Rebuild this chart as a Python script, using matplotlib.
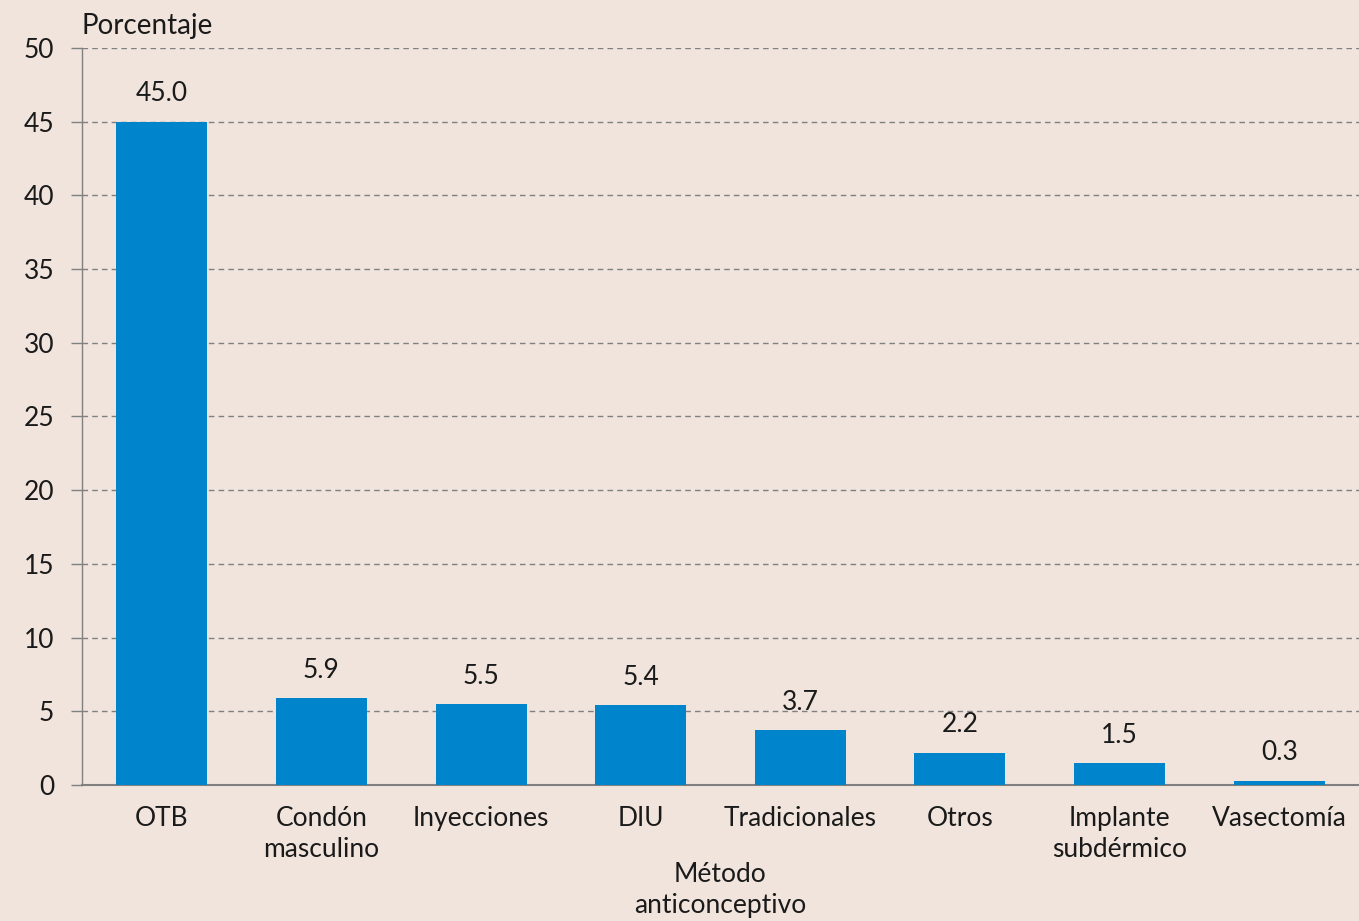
import matplotlib
matplotlib.use("Agg")
import matplotlib.pyplot as plt

categories = ["OTB", "Condón\nmasculino", "Inyecciones", "DIU", "Tradicionales",
              "Otros", "Implante\nsubdérmico", "Vasectomía"]
values = [45.0, 5.9, 5.5, 5.4, 3.7, 2.2, 1.5, 0.3]
yticks = [0, 5, 10, 15, 20, 25, 30, 35, 40, 45, 50]

BG = "#F0E4DD"
BAR = "#0085CC"
TXT = "#1a1a1a"
FS = 19
plt.rcParams['font.family'] = ['Lato', 'DejaVu Sans']

fig = plt.figure(figsize=(13.59, 9.21), dpi=100, facecolor=BG)
ax = fig.add_axes([82/1359, 136/921, 1 - 82/1359, (785-48)/921])
ax.set_facecolor(BG)

x = list(range(len(categories)))
bars = ax.bar(x, values, width=0.57, color=BAR, zorder=3)
for xi, v in zip(x, values):
    ax.annotate(f"{v:.1f}", (xi, v), xytext=(0, 11), textcoords="offset points",
                ha="center", va="bottom", fontsize=FS, color=TXT)

ax.set_xlim(-0.5, 7.5)
ax.set_ylim(0, 50)
ax.set_yticks(yticks)
ax.set_yticklabels([str(t) for t in yticks], fontsize=FS, color=TXT)
ax.set_xticks(x)
ax.set_xticklabels(categories, fontsize=FS, color=TXT, linespacing=1.3)
ax.tick_params(axis='x', length=0, pad=15)
ax.tick_params(axis='y', length=8, width=1, color="#808080", pad=12)

ax.yaxis.grid(True, linestyle=(0, (4, 3)), color="#808080", linewidth=1, zorder=0)
for s in ["top", "right"]:
    ax.spines[s].set_visible(False)
ax.spines["left"].set_color("#808080")
ax.spines["bottom"].set_color("#808080")
ax.spines["bottom"].set_linewidth(1.5)
ax.spines["left"].set_linewidth(1)

fig.text(82/1359, 1 - 26/921, "Porcentaje", ha="left", va="center", fontsize=FS + 1, color=TXT)
fig.text(720/1359, 1 - 890/921, "Método\nanticonceptivo", ha="center", va="center",
         fontsize=FS, color=TXT, linespacing=1.3)

fig.savefig("out.png", dpi=100, facecolor=BG)
